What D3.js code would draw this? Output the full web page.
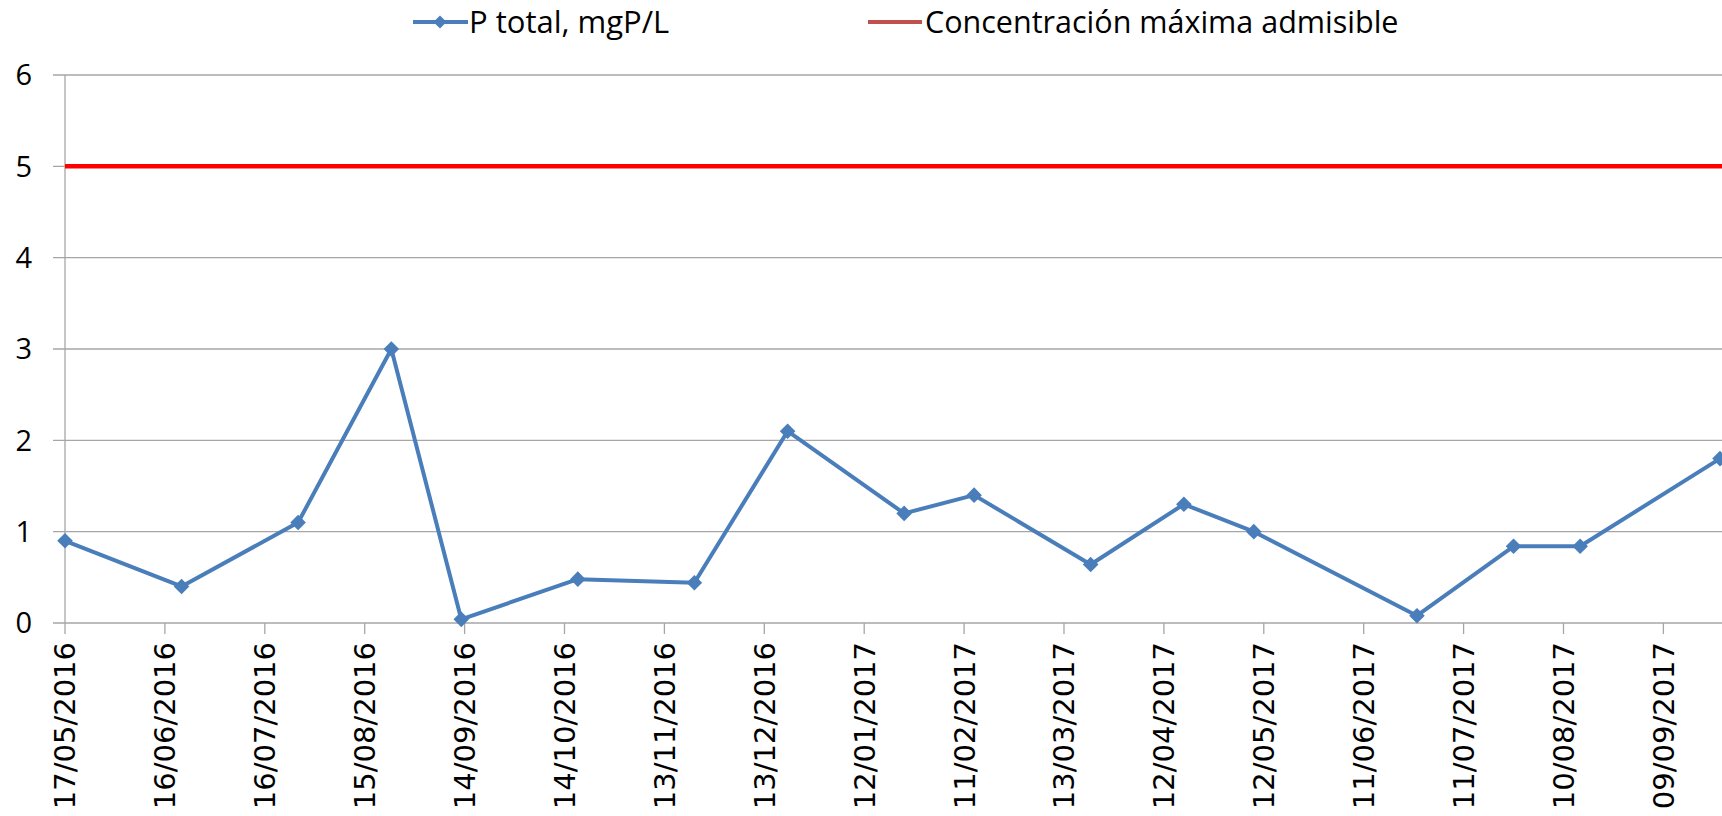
<!DOCTYPE html>
<html>
<head>
<meta charset="utf-8">
<script src="https://cdn.jsdelivr.net/npm/d3@7"></script>
<style>
  body { margin: 0; background: #fff; }
  svg { display: block; }
</style>
</head>
<body>
<div id="chart"></div>
<script>
// Fechas de muestreo y valores de P total
const sampleDates = ["17/05/2016", "21/06/2016", "26/07/2016", "23/08/2016", "13/09/2016",
  "18/10/2016", "22/11/2016", "20/12/2016", "24/01/2017", "14/02/2017", "21/03/2017",
  "18/04/2017", "09/05/2017", "27/06/2017", "26/07/2017", "15/08/2017", "26/09/2017"];
const pTotal = [0.9, 0.4, 1.1, 3.0, 0.04, 0.48, 0.44, 2.1, 1.2, 1.4, 0.64, 1.3, 1.0, 0.08, 0.84, 0.84, 1.8];
const maxAdmisible = 5;

// Etiquetas del eje X (cada 30 días)
const tickLabels = ["17/05/2016", "16/06/2016", "16/07/2016", "15/08/2016", "14/09/2016",
  "14/10/2016", "13/11/2016", "13/12/2016", "12/01/2017", "11/02/2017", "13/03/2017",
  "12/04/2017", "12/05/2017", "11/06/2017", "11/07/2017", "10/08/2017", "09/09/2017"];
const yTicks = [0, 1, 2, 3, 4, 5, 6];

const seriesNames = ["P total, mgP/L", "Concentración máxima admisible"];

const parseDate = d3.timeParse("%d/%m/%Y");
const width = 1722, height = 816;
const margin = { top: 75, right: 2, bottom: 193, left: 65 };

const svg = d3.select("#chart")
  .append("svg")
  .attr("width", width)
  .attr("height", height);

const data = sampleDates.map((d, i) => ({ date: parseDate(d), value: pTotal[i] }));

const x = d3.scaleTime()
  .domain([parseDate(sampleDates[0]), parseDate(sampleDates[sampleDates.length - 1])])
  .range([margin.left, width - margin.right]);

const y = d3.scaleLinear()
  .domain([0, 6])
  .range([height - margin.bottom, margin.top]);

// Líneas de cuadrícula horizontales
svg.append("g")
  .selectAll("line")
  .data(yTicks)
  .join("line")
  .attr("x1", margin.left - 12)
  .attr("x2", width)
  .attr("y1", d => y(d))
  .attr("y2", d => y(d))
  .attr("stroke", "#a6a6a6")
  .attr("stroke-width", 1.3);

// Eje vertical
svg.append("line")
  .attr("x1", margin.left).attr("x2", margin.left)
  .attr("y1", y(6)).attr("y2", y(0))
  .attr("stroke", "#a6a6a6")
  .attr("stroke-width", 1.3);

// Etiquetas eje Y
svg.append("g")
  .selectAll("text")
  .data(yTicks)
  .join("text")
  .attr("x", 32)
  .attr("y", d => y(d))
  .attr("dy", "0.36em")
  .attr("text-anchor", "end")
  .attr("font-family", "Open Sans, sans-serif")
  .attr("font-size", 29)
  .attr("fill", "#000")
  .text(d => d);

// Marcas y etiquetas del eje X
const tickDates = tickLabels.map(parseDate);
svg.append("g")
  .selectAll("line")
  .data(tickDates)
  .join("line")
  .attr("x1", d => x(d)).attr("x2", d => x(d))
  .attr("y1", y(0)).attr("y2", y(0) + 11)
  .attr("stroke", "#a6a6a6")
  .attr("stroke-width", 1.3);

svg.append("g")
  .selectAll("text")
  .data(tickLabels)
  .join("text")
  .attr("transform", d => `translate(${x(parseDate(d))},${y(0) + 19}) rotate(-90)`)
  .attr("dy", "0.36em")
  .attr("text-anchor", "end")
  .attr("font-family", "DejaVu Sans, sans-serif")
  .attr("font-size", 29)
  .attr("fill", "#000")
  .text(d => d);

// Línea de concentración máxima admisible
svg.append("line")
  .attr("x1", margin.left).attr("x2", width)
  .attr("y1", y(maxAdmisible)).attr("y2", y(maxAdmisible))
  .attr("stroke", "#ff0000")
  .attr("stroke-width", 4.5);

// Serie P total
const line = d3.line()
  .x(d => x(d.date))
  .y(d => y(d.value));

svg.append("path")
  .datum(data)
  .attr("d", line)
  .attr("fill", "none")
  .attr("stroke", "#4a7ebb")
  .attr("stroke-width", 4)
  .attr("stroke-linejoin", "round");

const diamond = d3.symbol().type(d3.symbolDiamond2).size(155);

svg.append("g")
  .selectAll("path")
  .data(data)
  .join("path")
  .attr("transform", d => `translate(${x(d.date)},${y(d.value)})`)
  .attr("d", diamond)
  .attr("fill", "#4a7ebb");

// Leyenda
const legend = svg.append("g");
legend.append("line")
  .attr("x1", 413).attr("x2", 468).attr("y1", 22).attr("y2", 22)
  .attr("stroke", "#4a7ebb").attr("stroke-width", 4);
legend.append("path")
  .attr("transform", "translate(440,22)")
  .attr("d", d3.symbol().type(d3.symbolDiamond2).size(110))
  .attr("fill", "#4a7ebb");
legend.append("text")
  .attr("x", 469).attr("y", 22).attr("dy", "0.36em")
  .attr("font-family", "Open Sans, sans-serif")
  .attr("font-size", 31)
  .text(seriesNames[0]);

legend.append("line")
  .attr("x1", 868).attr("x2", 922).attr("y1", 22).attr("y2", 22)
  .attr("stroke", "#c0504d").attr("stroke-width", 4);
legend.append("text")
  .attr("x", 925).attr("y", 22).attr("dy", "0.36em")
  .attr("font-family", "Open Sans, sans-serif")
  .attr("font-size", 30.5)
  .text(seriesNames[1]);
</script>
</body>
</html>
